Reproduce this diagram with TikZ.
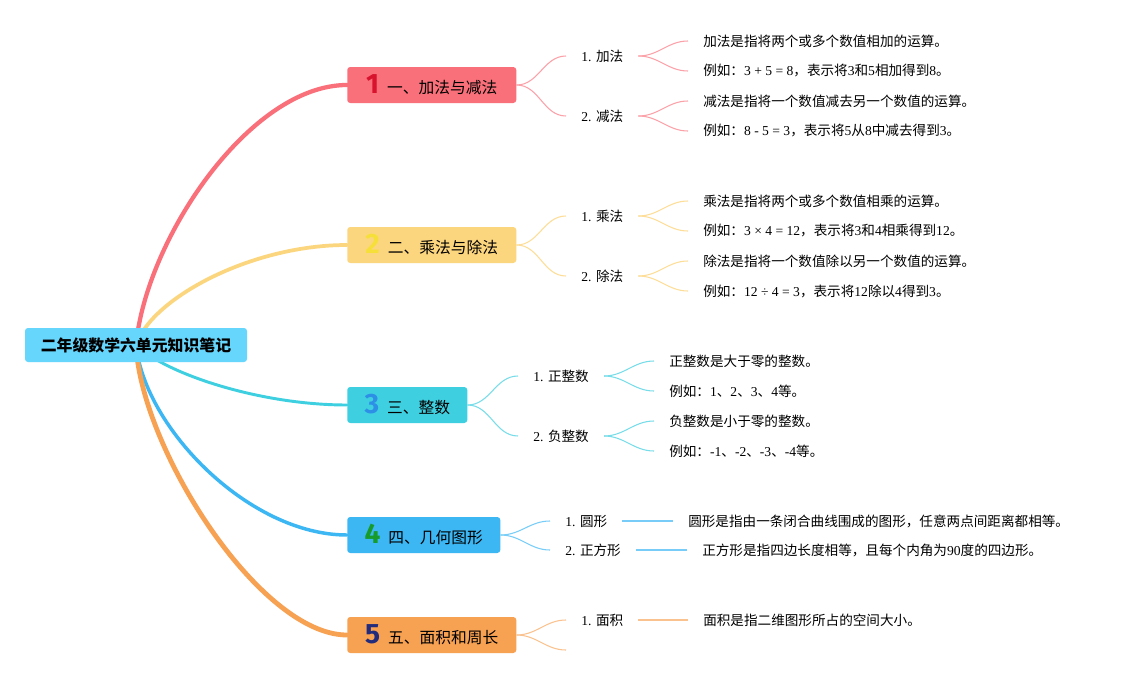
\documentclass[tikz,border=0pt]{standalone}
\usepackage{fontspec}
\setmainfont{Liberation Serif}
\newfontfamily\cjk{Noto Sans CJK SC}
\newfontfamily\iconfont{Fira Sans}
\usetikzlibrary{positioning, backgrounds}

% Chinese characters switch to \cjk by themselves
\newXeTeXintercharclass\cjkclass
\newcount\cjkcode
\def\cjkrange#1#2{\cjkcode=#1\relax
  \loop \XeTeXcharclass\cjkcode=\cjkclass
  \ifnum\cjkcode<#2\relax \advance\cjkcode by 1 \repeat}
\cjkrange{"4E00}{"9FFF}
\cjkrange{"3000}{"303F}
\cjkrange{"FF00}{"FFEF}
\XeTeXinterchartoks 0 \cjkclass = {\cjk}
\XeTeXinterchartoks 4095 \cjkclass = {\cjk}
\XeTeXinterchartoks \cjkclass 0 = {\rmfamily}
\XeTeXinterchartoks \cjkclass 4095 = {\rmfamily}
\XeTeXinterchartokenstate=1

\definecolor{rootblue}{HTML}{66D6FC}
\definecolor{c1}{HTML}{F9707A}
\definecolor{c2}{HTML}{FCD67E}
\definecolor{c3}{HTML}{3ECFE0}
\definecolor{c4}{HTML}{3CB7F3}
\definecolor{c5}{HTML}{F7A153}
\definecolor{i1}{HTML}{D7132E}
\definecolor{i2}{HTML}{F7DF3A}
\definecolor{i3}{HTML}{2D8FE6}
\definecolor{i4}{HTML}{179B2B}
\definecolor{i5}{HTML}{222B7C}

\newcommand\numicon[2]{{\iconfont\bfseries\fontsize{21}{21}\selectfont\color{#1}#2}\hspace{6pt}}

\tikzset{
  topic/.style={rounded corners=2.25pt, minimum height=27pt, inner sep=0pt, anchor=west,
    text height=15pt, text depth=3pt, font=\fontsize{11.8}{14}\selectfont},
  sub/.style={anchor=west, inner xsep=11.25pt, inner ysep=2pt, font=\fontsize{10.2}{12}\selectfont},
  branch/.style={line width=#1, line cap=round},
  twig/.style={line width=0.8pt}
}

\begin{document}
\begin{tikzpicture}[x=0.75pt, y=-0.75pt]
        \useasboundingbox (0,0) rectangle (1139,678);

        \node[fill=rootblue, rounded corners=2.25pt, minimum width=166.5pt, minimum height=25.5pt, inner sep=0pt,
          font=\bfseries\fontsize{11.9}{14}\selectfont] (root) at (136,345) {二年级数学六单元知识笔记};

        \node[topic, fill=c1, minimum width=126.75pt] (T1) at (347,85) {\numicon{i1}{1}一、加法与减法};
        \node[topic, fill=c2, minimum width=126.75pt] (T2) at (347,245) {\numicon{i2}{2}二、乘法与除法};
        \node[topic, fill=c3, minimum width=90pt] (T3) at (347,405) {\numicon{i3}{3}三、整数};
        \node[topic, fill=c4, minimum width=114.75pt] (T4) at (347,535) {\numicon{i4}{4}四、几何图形};
        \node[topic, fill=c5, minimum width=126.75pt] (T5) at (347,635) {\numicon{i5}{5}五、面积和周长};

        \node[sub] (S11) at (566,56) {1. 加法};
        \node[sub] (S12) at (566,116) {2. 减法};
        \node[sub] (S21) at (566,216) {1. 乘法};
        \node[sub] (S22) at (566,276) {2. 除法};
        \node[sub] (S31) at (518,376) {1. 正整数};
        \node[sub] (S32) at (518,436) {2. 负整数};
        \node[sub] (S41) at (550,521) {1. 圆形};
        \node[sub] (S42) at (550,550) {2. 正方形};
        \node[sub] (S51) at (566,620) {1. 面积};
        \coordinate (S52) at (566,650);

        \node[sub] (L111) at (688,41) {加法是指将两个或多个数值相加的运算。};
        \node[sub] (L112) at (688,71) {例如：3 + 5 = 8，表示将3和5相加得到8。};
        \node[sub] (L121) at (688,101) {减法是指将一个数值减去另一个数值的运算。};
        \node[sub] (L122) at (688,131) {例如：8 - 5 = 3，表示将5从8中减去得到3。};
        \node[sub] (L211) at (688,201) {乘法是指将两个或多个数值相乘的运算。};
        \node[sub] (L212) at (688,231) {例如：3 × 4 = 12，表示将3和4相乘得到12。};
        \node[sub] (L221) at (688,261) {除法是指将一个数值除以另一个数值的运算。};
        \node[sub] (L222) at (688,291) {例如：12 ÷ 4 = 3，表示将12除以4得到3。};
        \node[sub] (L311) at (654,361) {正整数是大于零的整数。};
        \node[sub] (L312) at (654,391) {例如：1、2、3、4等。};
        \node[sub] (L321) at (654,421) {负整数是小于零的整数。};
        \node[sub] (L322) at (654,451) {例如：-1、-2、-3、-4等。};
        \node[sub] (L411) at (673,521) {圆形是指由一条闭合曲线围成的图形，任意两点间距离都相等。};
        \node[sub] (L421) at (687,550) {正方形是指四边长度相等，且每个内角为90度的四边形。};
        \node[sub] (L511) at (688,620) {面积是指二维图形所占的空间大小。};

        \begin{scope}[on background layer]
        \fill[white] (0,0) rectangle (1139,678);
        \draw[branch=3.2pt, c1] (root.center) .. controls +(10,-106) and +(-97,0) .. (T1.west);
        \draw[branch=2.8pt, c2] (root.center) .. controls +(15,-46) and +(-97,0) .. (T2.west);
        \draw[branch=2.2pt, c3] (root.center) .. controls +(30,29) and +(-87,0) .. (T3.west);
        \draw[branch=2.6pt, c4] (root.center) .. controls +(9,84) and +(-97,0) .. (T4.west);
        \draw[branch=3.6pt, c5] (root.center) .. controls +(5,104) and +(-87,0) .. (T5.west);
        \end{scope}

        \draw[twig, c1!65] (T1.east) to[out=0, in=180] (S11.west);
        \draw[twig, c1!65] (T1.east) to[out=0, in=180] (S12.west);
        \draw[twig, c1!65] (S11.east) to[out=0, in=180] (L111.west);
        \draw[twig, c1!65] (S11.east) to[out=0, in=180] (L112.west);
        \draw[twig, c1!65] (S12.east) to[out=0, in=180] (L121.west);
        \draw[twig, c1!65] (S12.east) to[out=0, in=180] (L122.west);

        \draw[twig, c2!80] (T2.east) to[out=0, in=180] (S21.west);
        \draw[twig, c2!80] (T2.east) to[out=0, in=180] (S22.west);
        \draw[twig, c2!80] (S21.east) to[out=0, in=180] (L211.west);
        \draw[twig, c2!80] (S21.east) to[out=0, in=180] (L212.west);
        \draw[twig, c2!80] (S22.east) to[out=0, in=180] (L221.west);
        \draw[twig, c2!80] (S22.east) to[out=0, in=180] (L222.west);

        \draw[twig, c3!70] (T3.east) to[out=0, in=180] (S31.west);
        \draw[twig, c3!70] (T3.east) to[out=0, in=180] (S32.west);
        \draw[twig, c3!70] (S31.east) to[out=0, in=180] (L311.west);
        \draw[twig, c3!70] (S31.east) to[out=0, in=180] (L312.west);
        \draw[twig, c3!70] (S32.east) to[out=0, in=180] (L321.west);
        \draw[twig, c3!70] (S32.east) to[out=0, in=180] (L322.west);

        \draw[twig, c4!70] (T4.east) to[out=0, in=180] (S41.west);
        \draw[twig, c4!70] (T4.east) to[out=0, in=180] (S42.west);
        \draw[twig, c4!70] (S41.east) -- (L411.west);
        \draw[twig, c4!70] (S42.east) -- (L421.west);

        \draw[twig, c5!65] (T5.east) to[out=0, in=180] (S51.west);
        \draw[twig, c5!65] (T5.east) to[out=0, in=180] (S52);
        \draw[twig, c5!65] (S51.east) -- (L511.west);
    \end{tikzpicture}
\end{document}
